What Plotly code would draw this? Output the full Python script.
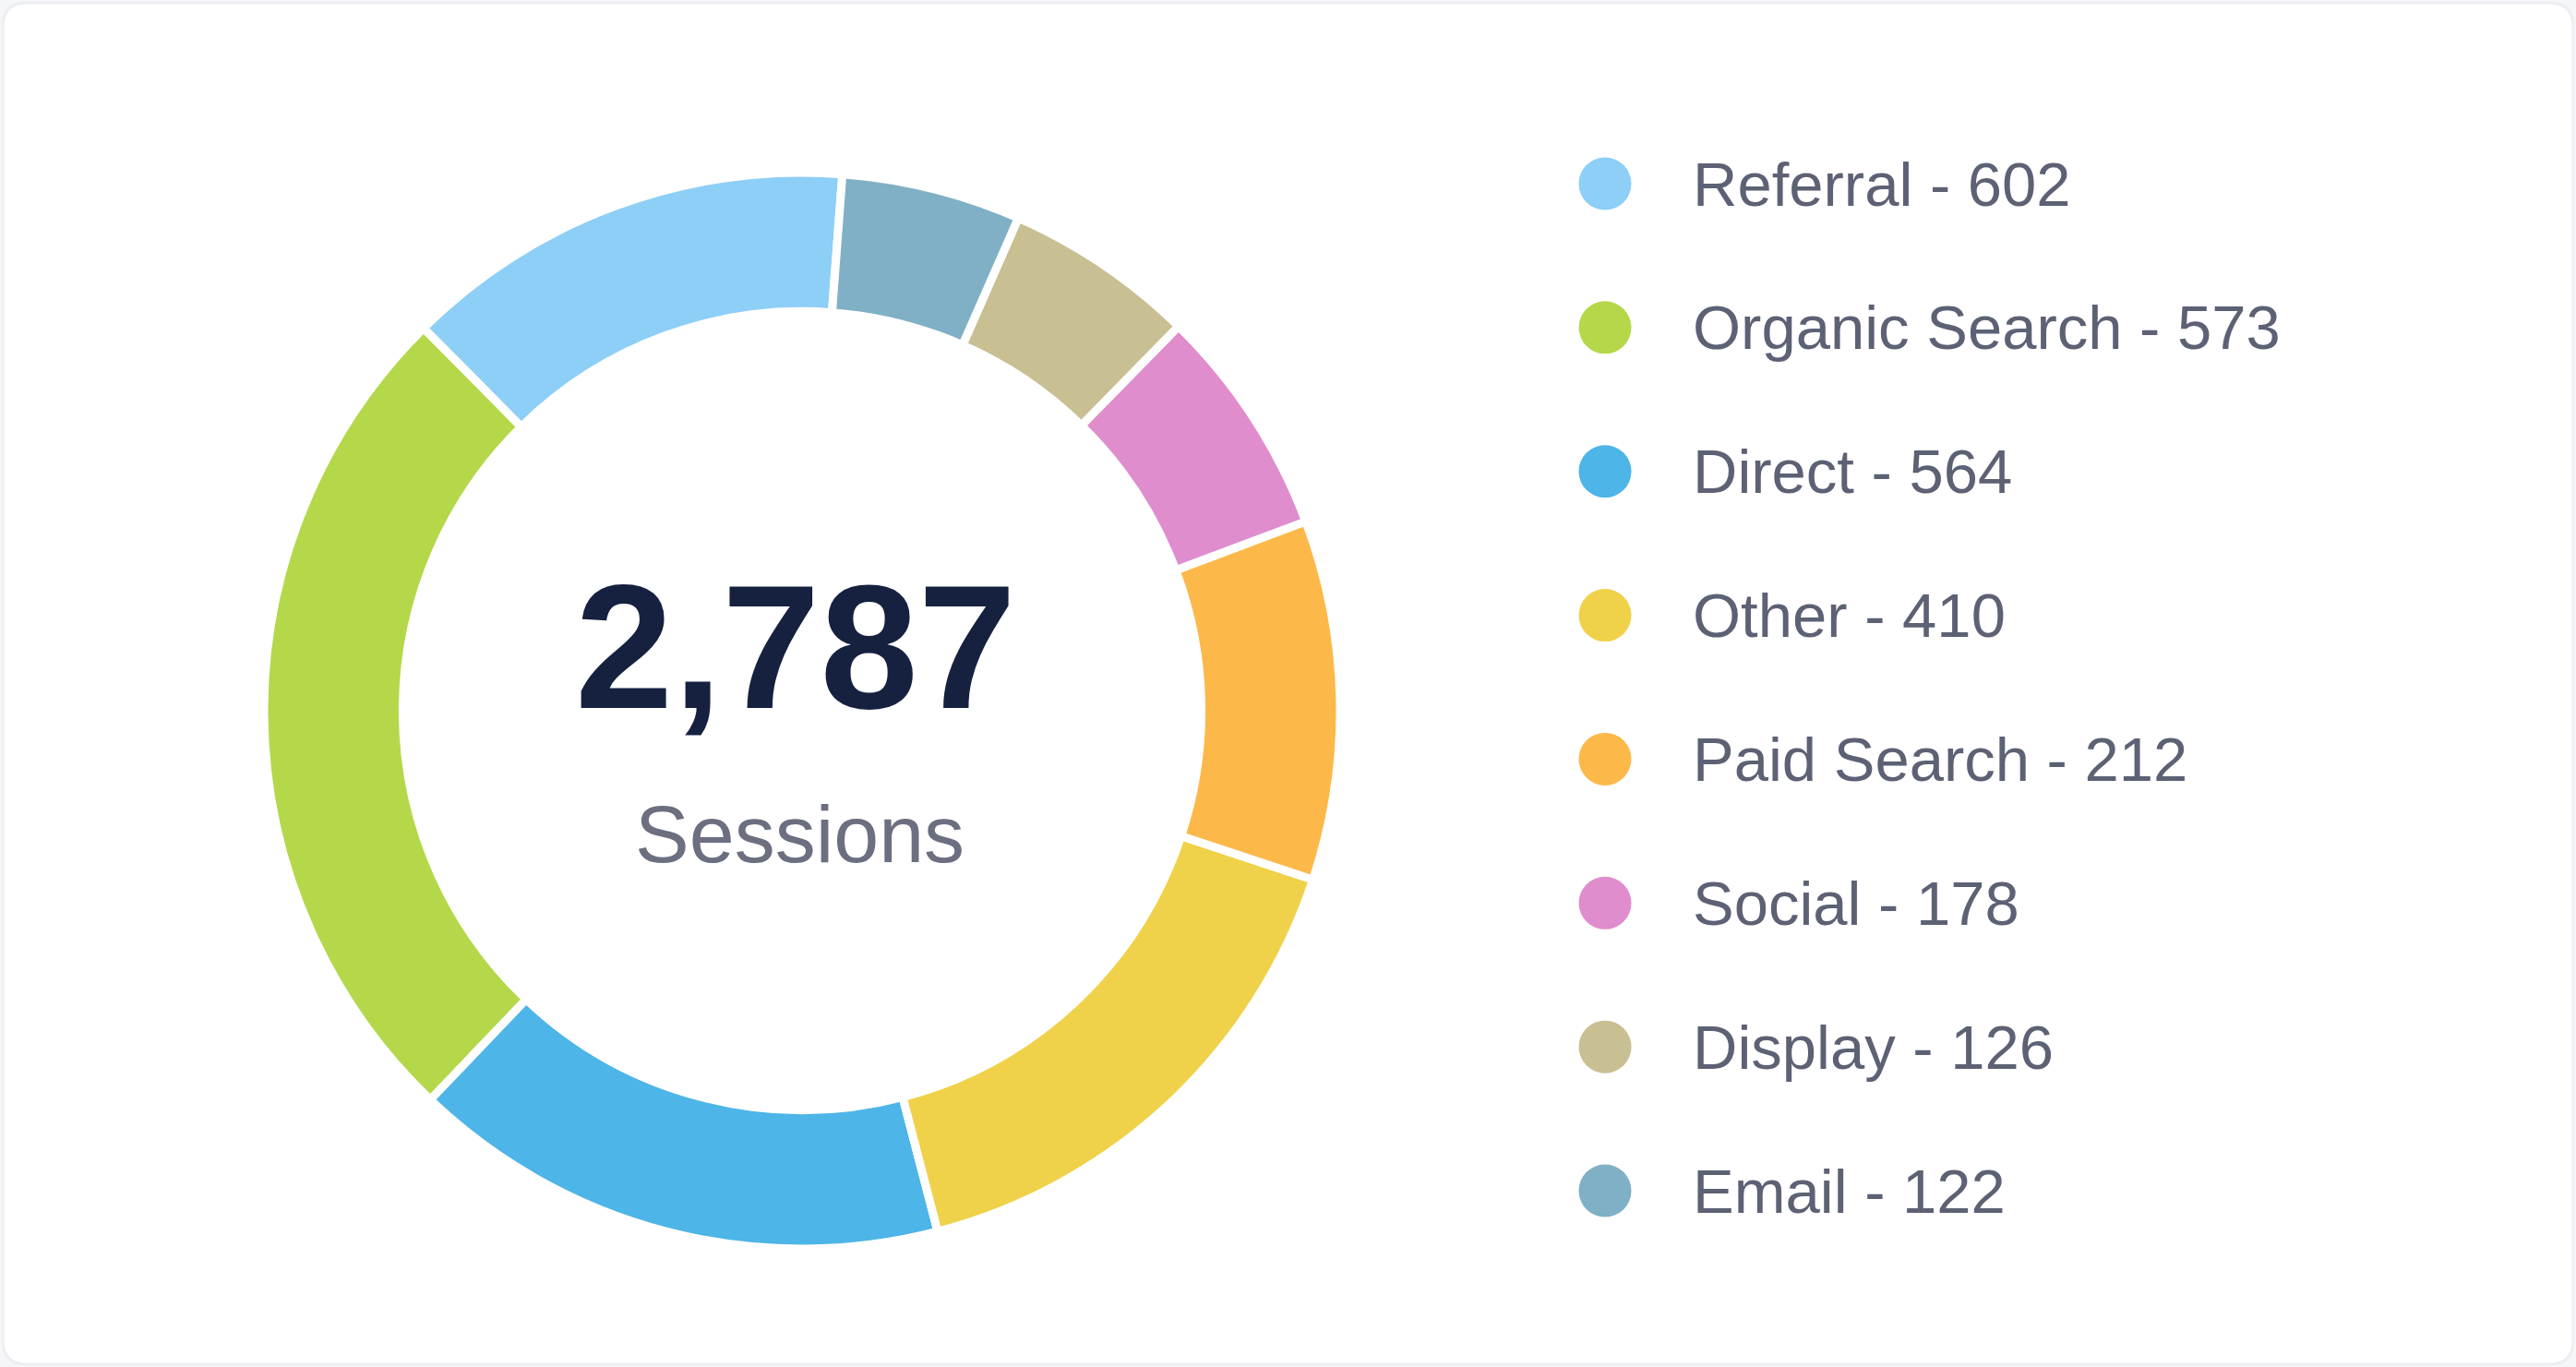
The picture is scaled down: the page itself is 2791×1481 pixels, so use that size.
import plotly.graph_objects as go

# ---- data ----
channels = ["Referral", "Organic Search", "Direct", "Other",
            "Paid Search", "Social", "Display", "Email"]
sessions = [602, 573, 564, 410, 212, 178, 126, 122]
# arc sizes of the ring as drawn in the picture (degrees of the circle)
arc_share = [49.0, 91.6, 58.3, 57.1, 38.9, 25.0, 20.7, 19.4]
colors = ["#8dcff7", "#b4d84a", "#4db5e7", "#efd24a",
          "#fdb84a", "#df8dcd", "#c8bf93", "#80b0c5"]
center_caption = "Sessions"

total = sum(sessions)
legend_labels = [f"{c} - {v}" for c, v in zip(channels, sessions)]

W, H = 2791, 1481
cx, cy, R = 869, 770, 583

fig = go.Figure()

fig.add_trace(go.Pie(
    labels=channels,
    values=arc_share,
    hole=0.742,
    sort=False,
    direction="counterclockwise",
    rotation=-44.7,
    marker=dict(colors=colors, line=dict(color="#ffffff", width=9)),
    textinfo="none",
    hoverinfo="skip",
    showlegend=False,
    domain=dict(x=[(cx - R) / W, (cx + R) / W],
                y=[(H - cy - R) / H, (H - cy + R) / H]),
))

# legend built as circles on a hidden axis
idx = list(range(len(channels)))
row0, row_step = 199, 155.86
y_top = -row0 / row_step
y_bot = (H - row0) / row_step
dot_x = 1739 / W
text_x = 1832 / W

fig.add_trace(go.Scatter(
    x=[dot_x] * len(channels), y=idx, mode="markers",
    marker=dict(size=57, color=colors, line=dict(width=0)),
    hoverinfo="skip", showlegend=False,
))

annotations = []
for i, lab in zip(idx, legend_labels):
    annotations.append(dict(
        x=text_x, y=i, xref="x", yref="y", text=lab, showarrow=False,
        xanchor="left", yanchor="middle",
        font=dict(family="Liberation Sans, Arial, sans-serif", size=67, color="#5d6174"),
    ))

annotations.append(dict(
    x=862 / W, y=1 - 700 / H, xref="paper", yref="paper",
    text=f"<b>{total:,}</b>", showarrow=False, xanchor="center", yanchor="middle",
    font=dict(family="Liberation Sans, Arial, sans-serif", size=191, color="#16203f"),
))
annotations.append(dict(
    x=866 / W, y=1 - 903 / H, xref="paper", yref="paper",
    text=center_caption, showarrow=False, xanchor="center", yanchor="middle",
    font=dict(family="Liberation Sans, Arial, sans-serif", size=88, color="#6b6f80"),
))

# rounded card outline
rx, ry = 26 / W, 26 / H
x0, x1 = 3 / W, 1 - 3 / W
y0, y1 = 3 / H, 1 - 3 / H
card = (f"M {x0+rx},{y0} L {x1-rx},{y0} Q {x1},{y0} {x1},{y0+ry} "
        f"L {x1},{y1-ry} Q {x1},{y1} {x1-rx},{y1} L {x0+rx},{y1} "
        f"Q {x0},{y1} {x0},{y1-ry} L {x0},{y0+ry} Q {x0},{y0} {x0+rx},{y0} Z")

fig.update_layout(
    width=W, height=H, autosize=False,
    margin=dict(l=0, r=0, t=0, b=0),
    paper_bgcolor="#f5f6f8",
    plot_bgcolor="rgba(0,0,0,0)",
    xaxis=dict(range=[0, 1], domain=[0, 1], visible=False, fixedrange=True),
    yaxis=dict(range=[y_bot, y_top], domain=[0, 1], visible=False, fixedrange=True),
    annotations=annotations,
    shapes=[dict(type="path", path=card, xref="paper", yref="paper",
                 fillcolor="#ffffff", line=dict(color="#eceef2", width=3),
                 layer="below")],
)

fig.write_html("out.html")
